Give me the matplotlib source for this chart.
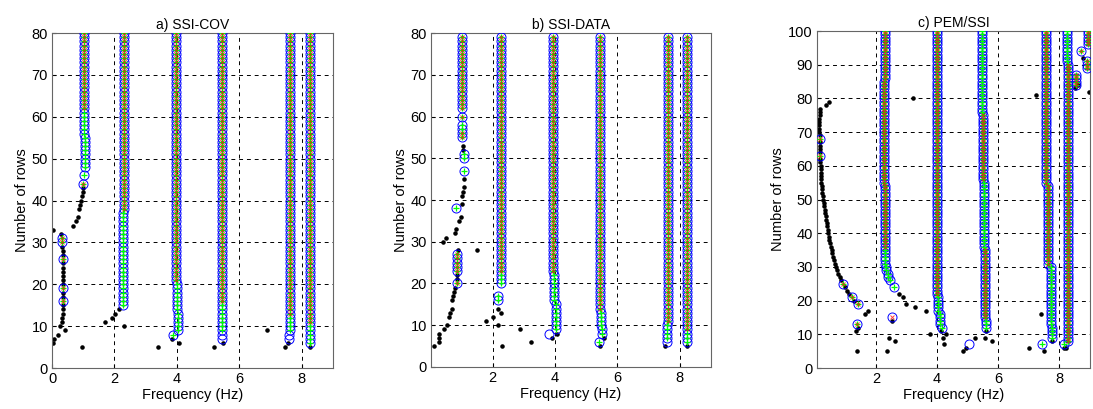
""" stabilization diagrams: SSI-COV, SSI-DATA, PEM/SSI """

import numpy as np
import matplotlib
matplotlib.use("Agg")
import matplotlib.pyplot as plt

plt.rcParams['font.family'] = ['Liberation Sans', 'DejaVu Sans']

# stable poles: runs of consecutive rows at one frequency
# kind: 'o' circle only, 'g' circle + damping (+), 'r' circle + damping + mode shape (x), 'x' circle + mode shape
cov_seg_f    = [1.00, 1.02, 1.06, 1.03, 1.03, 0.35, 0.36, 0.35, 0.33,
                2.27, 2.29, 3.87, 4.02, 3.99, 3.98, 5.45, 5.44, 5.43,
                7.60, 7.61, 7.61, 8.27, 8.27]
cov_seg_lo   = [44, 46, 48, 56, 62, 16, 19, 26, 30,
                15, 38, 8, 9, 14, 21, 7, 9, 16,
                7, 9, 13, 6, 11]
cov_seg_hi   = [44, 46, 55, 61, 80, 16, 19, 26, 31,
                37, 80, 8, 13, 20, 80, 8, 15, 80,
                8, 12, 80, 10, 80]
cov_seg_kind = ['r', 'g', 'g', 'g', 'r', 'r', 'r', 'r', 'r',
                'g', 'r', 'g', 'g', 'g', 'r', 'o', 'g', 'r',
                'o', 'g', 'r', 'g', 'r']
cov_dot_f   = [0.02, 0.26, 0.20, 0.06, 0.04, 0.42, 0.97,
               0.31, 0.33, 0.34, 0.35, 0.35, 0.36, 0.36, 0.36, 0.35, 0.36, 0.35, 0.35, 0.36, 0.35, 0.34, 0.33, 0.30,
               0.66, 0.77, 0.82, 0.87, 0.88, 0.92, 0.95, 0.98, 1.00,
               1.70, 1.92, 2.03, 2.16, 2.29,
               3.39, 3.85, 4.06, 5.19, 5.48, 6.87, 7.46, 7.55, 8.27]
cov_dot_row = [33, 10, 8, 7, 6, 9, 5,
               11, 12, 13, 14, 15, 17, 18, 20, 21, 22, 23, 24, 25, 27, 28, 29, 32,
               34, 35, 36, 38, 39, 40, 41, 42, 43,
               11, 12, 13, 14, 10,
               5, 7, 6, 5, 6, 9, 5, 6, 5]

dat_seg_f    = [0.86, 0.86, 0.81, 1.07, 1.07, 1.03, 1.03, 1.00, 1.03,
                2.16, 2.27, 2.27, 3.80, 4.02, 3.96, 3.94,
                5.42, 5.50, 5.46, 5.44, 7.58, 7.60, 7.61, 8.24, 8.24]
dat_seg_lo   = [20, 23, 38, 47, 50, 55, 57, 60, 62,
                16, 20, 23, 8, 9, 16, 23,
                6, 8, 10, 14, 6, 7, 11, 6, 9]
dat_seg_hi   = [20, 27, 38, 47, 51, 56, 58, 60, 79,
                17, 22, 79, 8, 15, 22, 79,
                6, 9, 13, 79, 6, 10, 79, 8, 79]
dat_seg_kind = ['r', 'r', 'g', 'g', 'g', 'r', 'g', 'r', 'r',
                'g', 'g', 'r', 'o', 'g', 'g', 'r',
                'g', 'g', 'g', 'r', 'o', 'g', 'r', 'g', 'r']
dat_dot_f   = [0.11, 0.27, 0.27, 0.28, 0.43, 0.54, 0.60, 0.64, 0.68, 0.71, 0.73, 0.75, 0.80,
               0.86, 0.86, 0.89, 0.41, 0.51, 0.78, 0.82, 0.92, 0.97, 1.00, 1.03, 1.05, 1.07, 1.08,
               1.05, 1.04, 1.50, 1.80,
               2.02, 2.16, 2.27, 2.16, 2.29, 2.88, 3.24,
               3.90, 4.06, 5.44, 5.57, 7.52, 8.22]
dat_dot_row = [5, 6, 7, 8, 9, 10, 12, 13, 14, 16, 17, 18, 19,
               21, 22, 28, 30, 31, 32, 33, 35, 36, 39, 41, 42, 43, 45,
               52, 53, 28, 11,
               12, 14, 13, 10, 5, 9, 6,
               7, 8, 5, 7, 5, 5]

pem_seg_f    = [0.17, 0.17, 0.91, 1.21, 1.42, 1.39, 2.51,
                2.60, 2.45, 2.39, 2.34, 2.31, 2.29, 2.27, 2.29,
                4.15, 4.08, 4.04, 3.99,
                5.04, 5.60, 5.56, 5.53, 5.50, 5.47,
                7.43, 7.76, 7.72, 7.63, 7.56,
                8.16, 8.27, 8.24,
                8.54, 8.71, 8.90, 8.92]
pem_seg_lo   = [63, 68, 25, 21, 19, 13, 15,
                24, 26, 27, 29, 31, 36, 55, 86,
                12, 13, 17, 22,
                7, 12, 15, 36, 56, 76,
                7, 9, 13, 31, 55,
                7, 8, 91,
                84, 94, 89, 96]
pem_seg_hi   = [63, 68, 25, 21, 19, 13, 15,
                24, 26, 28, 30, 35, 54, 85, 100,
                12, 16, 21, 100,
                7, 14, 35, 55, 75, 100,
                7, 12, 30, 54, 100,
                7, 90, 100,
                87, 94, 91, 100]
pem_seg_kind = ['r', 'r', 'r', 'r', 'r', 'r', 'x',
                'g', 'g', 'g', 'g', 'g', 'r', 'r', 'r',
                'g', 'g', 'g', 'r',
                'o', 'g', 'r', 'g', 'r', 'g',
                'g', 'g', 'g', 'r', 'r',
                'g', 'r', 'g',
                'r', 'r', 'r', 'r']
pem_curve_row = [79, 78, 77, 76, 75, 74, 73, 72, 71, 70, 69, 67, 66, 65, 64, 62, 61, 60,
                 59, 58, 57, 56, 55, 54, 53, 52, 51, 50, 49, 48, 47, 46, 45, 44, 43, 42,
                 41, 40, 39, 38, 37, 36, 35, 34, 33, 32, 31, 30, 29, 28, 27, 26, 24, 23, 22, 20]
pem_curve_f   = [0.48, 0.37, 0.18, 0.16, 0.16, 0.15, 0.15, 0.15, 0.15, 0.15, 0.16, 0.16, 0.16, 0.17, 0.17, 0.18, 0.18, 0.19,
                 0.19, 0.20, 0.20, 0.21, 0.22, 0.23, 0.24, 0.25, 0.26, 0.27, 0.29, 0.30, 0.32, 0.34, 0.36, 0.37, 0.39, 0.40,
                 0.42, 0.44, 0.46, 0.48, 0.50, 0.52, 0.55, 0.58, 0.61, 0.64, 0.67, 0.70, 0.73, 0.77, 0.81, 0.86, 0.98, 1.05, 1.12, 1.28]
pem_dot_f   = [1.35, 1.37, 1.64, 1.73, 1.40,
               2.76, 2.87, 3.00, 3.29, 3.65, 3.22,
               2.51, 2.44, 2.64, 2.37,
               3.78, 4.20, 4.23, 4.30, 4.12,
               5.55, 5.23, 5.78, 5.60, 4.95, 4.85,
               7.02, 7.50, 7.40, 7.24, 7.76,
               8.22, 8.16, 8.50, 8.60, 8.78, 8.95]
pem_dot_row = [11, 5, 16, 17, 12,
               22, 21, 19, 18, 17, 80,
               14, 9, 8, 5,
               10, 9, 7, 10, 11,
               9, 9, 8, 11, 6, 5,
               6, 5, 16, 81, 8,
               6, 6, 83, 84, 92, 82]

titles = ['a) SSI-COV', 'b) SSI-DATA', 'c) PEM/SSI']
panels = [
    (cov_seg_f, cov_seg_lo, cov_seg_hi, cov_seg_kind, cov_dot_f, cov_dot_row),
    (dat_seg_f, dat_seg_lo, dat_seg_hi, dat_seg_kind, dat_dot_f, dat_dot_row),
    (pem_seg_f, pem_seg_lo, pem_seg_hi, pem_seg_kind,
     pem_curve_f + pem_dot_f, pem_curve_row + pem_dot_row),
]
xlims = [(0, 9), (0.02, 9), (0.075, 9)]
ylims = [(0, 80), (0, 80), (0, 100)]
xticks = [[0, 2, 4, 6, 8], [2, 4, 6, 8], [2, 4, 6, 8]]
yticks = [range(0, 81, 10), range(0, 81, 10), range(0, 101, 10)]
boxes = [[0.0476, 0.1002, 0.2571, 0.8191],
         [0.3943, 0.1027, 0.2562, 0.8166],
         [0.7475, 0.1002, 0.2498, 0.8240]]

fig = plt.figure(figsize=(10.93, 4.09), dpi=100)

for i in range(3):
    seg_f, seg_lo, seg_hi, seg_kind, dot_f, dot_row = panels[i]
    ax = fig.add_axes(boxes[i])

    # expand runs into single poles
    cf, cr, gf, gr, rf, rr = [], [], [], [], [], []
    for f, lo, hi, k in zip(seg_f, seg_lo, seg_hi, seg_kind):
        rows = list(range(lo, hi + 1))
        cf += [f] * len(rows)
        cr += rows
        if k in ('g', 'r'):
            gf += [f] * len(rows)
            gr += rows
        if k in ('r', 'x'):
            rf += [f] * len(rows)
            rr += rows

    ax.plot(dot_f, dot_row, '.', color='k', ms=4.5, zorder=2)
    ax.plot(cf, cr, 'o', mfc='none', mec='b', ms=6.5, mew=0.7, zorder=3)
    ax.plot(gf, gr, '+', color=(0, 1, 0), ms=5, mew=0.9, zorder=4)
    ax.plot(rf, rr, 'x', color='r', ms=3.2, mew=0.7, alpha=0.75, zorder=5)

    ax.set_xlim(xlims[i])
    ax.set_ylim(ylims[i])
    ax.set_xticks(xticks[i])
    ax.set_yticks(list(yticks[i]))
    ax.grid(True, color='k', lw=0.7, ls=(0, (4, 4)))
    ax.set_axisbelow(True)
    ax.tick_params(direction='in', length=3, labelsize=10.5, colors='k', pad=3)
    for s in ax.spines.values():
        s.set_color('0.4')
        s.set_linewidth(0.8)
    ax.set_title(titles[i], fontsize=10, pad=3)
    ax.set_xlabel('Frequency (Hz)', fontsize=10.5, labelpad=1)
    ax.set_ylabel('Number of rows', fontsize=10.5, labelpad=2)

fig.savefig('out.png', dpi=100)
